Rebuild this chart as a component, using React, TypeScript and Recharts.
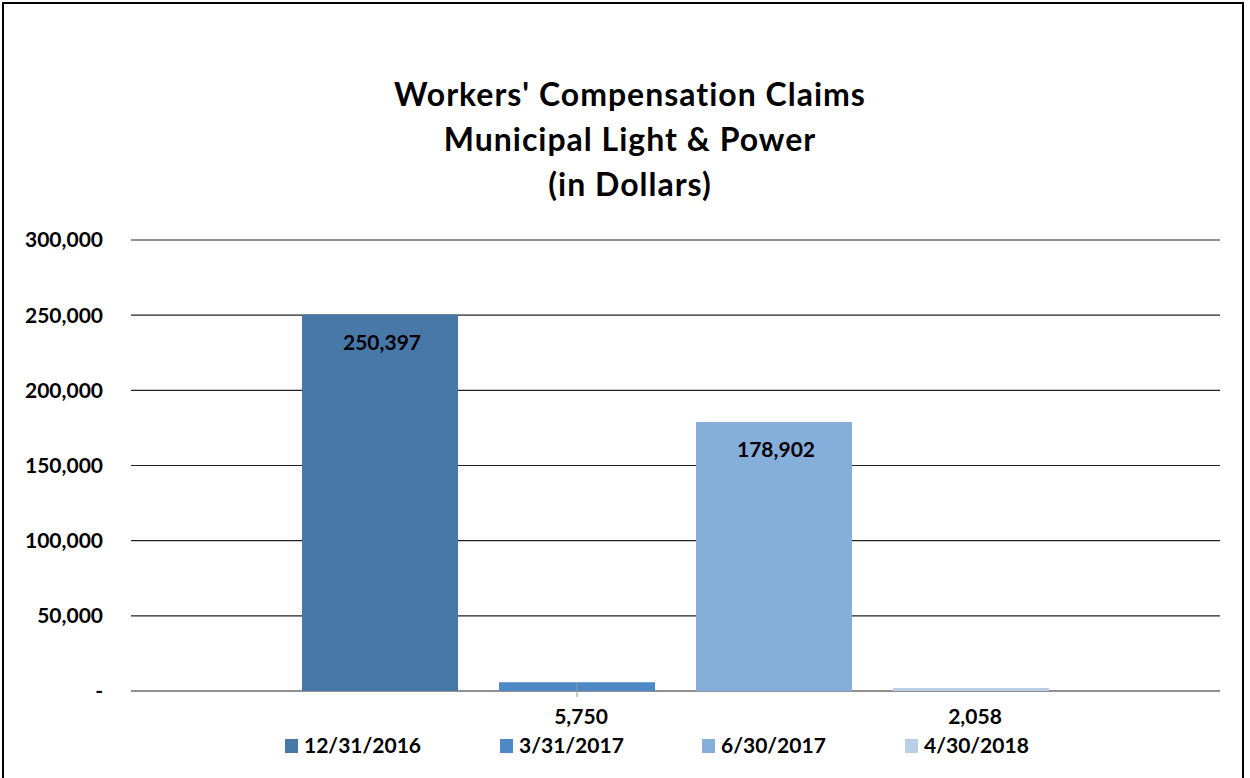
import React from 'react';
import { BarChart, Bar, XAxis, YAxis, CartesianGrid } from 'recharts';

const categories = [''];
const seriesNames = ['12/31/2016', '3/31/2017', '6/30/2017', '4/30/2018'];
const seriesValues = [250397, 5750, 178902, 2058];
const seriesColors = ['#4878A8', '#4E88C6', '#86AEDB', '#B8CEE9'];
const yTicks = [0, 50000, 100000, 150000, 200000, 250000, 300000];
const titleLines = ["Workers' Compensation Claims", 'Municipal Light & Power', '(in Dollars)'];

const FONT = 'Lato, "Open Sans", sans-serif';

const data = categories.map((name) => {
  const row: Record<string, string | number> = { name };
  seriesNames.forEach((s, i) => {
    row[`s${i}`] = seriesValues[i];
  });
  return row;
});

const fmt = (v: number) => (v === 0 ? '-' : v.toLocaleString('en-US'));

const makeLabel = (leader: boolean) => (props: any) => {
  const { x, y, width, height, value } = props;
  const cx = Number(x) + Number(width) / 2;
  const small = Number(height) < 40;
  const ty = small ? Number(y) + Number(height) + 33 : Number(y) + 35;
  return (
    <g>
      {small && leader && (
        <line x1={cx} y1={Number(y)} x2={cx} y2={Number(y) + Number(height) + 6} stroke="#999" strokeWidth={1} />
      )}
      <text x={small ? cx + 4 : cx + 2} y={ty} textAnchor="middle" fontFamily={FONT} fontWeight={700} fontSize={21} fill="#000">
        {fmt(Number(value))}
      </text>
    </g>
  );
};

const legendX = [285, 500, 702, 905];

export default function App() {
  return (
    <div style={{ position: 'absolute', left: 0, top: 0, width: 1250, height: 778, background: '#fff', overflow: 'hidden' }}>
      <div style={{ position: 'absolute', left: 2, top: 2, width: 1242, height: 800, border: '2px solid #000', boxSizing: 'border-box' }} />
      <BarChart
        width={1250}
        height={778}
        data={data}
        margin={{ top: 240, right: 30, bottom: 87, left: 0 }}
        barSize={156}
        barGap={41}
      >
        <CartesianGrid horizontal vertical={false} stroke="#222" strokeWidth={1.2} />
        <XAxis dataKey="name" hide />
        <YAxis
          width={131}
          domain={[0, 300000]}
          ticks={yTicks}
          axisLine={false}
          tickLine={false}
          tickSize={0}
          tickMargin={28}
          tickFormatter={fmt}
          tick={{ fill: '#000', fontFamily: FONT, fontWeight: 700, fontSize: 21 }}
        />
        {seriesNames.map((s, i) => (
          <Bar
            key={s}
            dataKey={`s${i}`}
            name={s}
            fill={seriesColors[i]}
            isAnimationActive={false}
            label={makeLabel(i === 1)}
          />
        ))}
      </BarChart>
      <svg width={1250} height={778} style={{ position: 'absolute', left: 0, top: 0, pointerEvents: 'none' }}>
        {titleLines.map((t, i) => (
          <text key={t} x={630} y={106 + i * 45} textAnchor="middle" fontFamily={FONT} fontWeight={700} fontSize={32} letterSpacing={1} fill="#000">
            {t}
          </text>
        ))}
        {seriesNames.map((s, i) => (
          <g key={s}>
            <rect x={legendX[i]} y={739} width={13} height={14} fill={seriesColors[i]} />
            <text x={legendX[i] + 19} y={753} fontFamily={FONT} fontWeight={700} fontSize={21} fill="#000">
              {s}
            </text>
          </g>
        ))}
      </svg>
    </div>
  );
}
